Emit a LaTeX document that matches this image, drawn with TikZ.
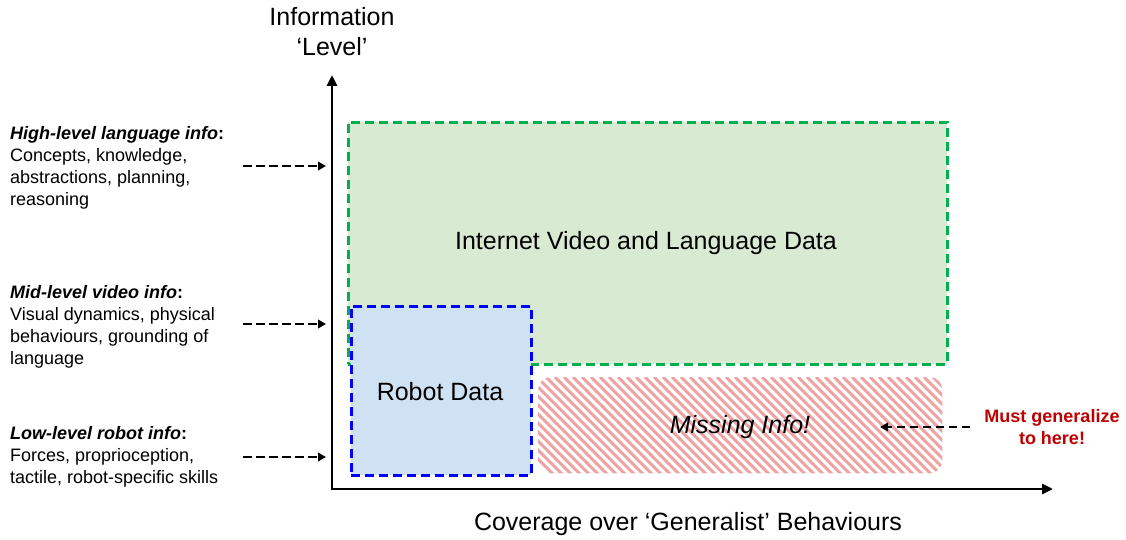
\documentclass[tikz,border=0pt]{standalone}
\usepackage{fontspec}
\setmainfont{Liberation Sans}
\usetikzlibrary{arrows.meta}
\definecolor{gfill}{HTML}{D9EAD3}
\definecolor{gline}{HTML}{00B050}
\definecolor{bfill}{HTML}{CFE2F3}
\definecolor{bline}{HTML}{0000FF}
\definecolor{hatch}{HTML}{EEA3A3}
\definecolor{mustred}{HTML}{C00000}
\tikzset{
  axis/.style={line width=2.8pt, -{Triangle[length=11pt,width=10pt]}},
  boxline/.style={line width=2.6pt, dash pattern=on 9pt off 5pt},
  ptr/.style={line width=2.7pt, dash pattern=on 8.5pt off 4.5pt, -{Triangle[length=8pt,width=8.5pt]}},
  bigtxt/.style={font=\fontsize{25}{30}\selectfont, inner sep=0pt, align=center},
  sidetxt/.style={font=\fontsize{18}{22}\selectfont, inner sep=0pt, align=left, anchor=north west},
}
\begin{document}
\begin{tikzpicture}[x=1pt,y=-1pt]
\useasboundingbox (0,0) rectangle (1126,540);
% boxes
\node[draw=gline, fill=gfill, boxline, rectangle, minimum width=599pt, minimum height=242pt, anchor=north west, inner sep=0pt] (net) at (347,121) {};
\node[bigtxt] (nettxt) at (646,243) {Internet Video and Language Data};
\node[draw=bline, fill=bfill, boxline, rectangle, minimum width=180pt, minimum height=169pt, anchor=north west, inner sep=0pt] (robot) at (350,305) {};
\node[bigtxt] (robottxt) at (440,392) {Robot Data};
% missing info hatched box
\node[rectangle, rounded corners=13pt, minimum width=404pt, minimum height=96pt, anchor=north west, inner sep=0pt] (miss) at (538,377) {};
\begin{scope}
  \clip[rounded corners=13pt] (miss.north west) rectangle (miss.south east);
  \foreach \i in {0,...,60} {
    \draw[hatch, line width=3pt] (420+9*\i,377) -- ++(100,100);
  }
\end{scope}
\node[bigtxt, font=\fontsize{25}{30}\selectfont\itshape] (misstxt) at (740,427) {Missing Info!};
% axes
\coordinate (origin) at (332,489);
\coordinate (ytip) at (332,75);
\coordinate (xtip) at (1053,489);
\draw[axis] (332,490.4) -- (ytip);
\draw[axis] (330.6,489) -- (xtip);
\node[bigtxt, anchor=north] (ylab) at (332,7) {Information\\‘Level’};
\node[bigtxt, anchor=base] (xlab) at (688,530) {Coverage over ‘Generalist’ Behaviours};
% side texts
\node[sidetxt] (hi) at (10,126) {\textbf{\textit{High-level language info}}\textbf{:}\\Concepts, knowledge,\\abstractions, planning,\\reasoning};
\node[sidetxt] (mid) at (10,285) {\textbf{\textit{Mid-level video info}}\textbf{:}\\Visual dynamics, physical\\behaviours, grounding of\\language};
\node[sidetxt] (lo) at (10,426) {\textbf{\textit{Low-level robot info}}\textbf{:}\\Forces, proprioception,\\tactile, robot-specific skills};
\coordinate (hiS) at (243,166); \coordinate (hiE) at (326,166);
\coordinate (midS) at (243,324); \coordinate (midE) at (326,324);
\coordinate (loS) at (243,457); \coordinate (loE) at (326,457);
\draw[ptr] (hiS) -- (hiE);
\draw[ptr] (midS) -- (midE);
\draw[ptr] (loS) -- (loE);
% must generalize
\node[font=\fontsize{18}{22}\selectfont\bfseries, text=mustred, align=center, inner sep=0pt] (must) at (1052,427) {Must generalize\\to here!};
\coordinate (mustS) at (970,427);
\coordinate (mustE) at (880,427);
\draw[ptr] (mustS) -- (mustE);
\end{tikzpicture}
\end{document}
